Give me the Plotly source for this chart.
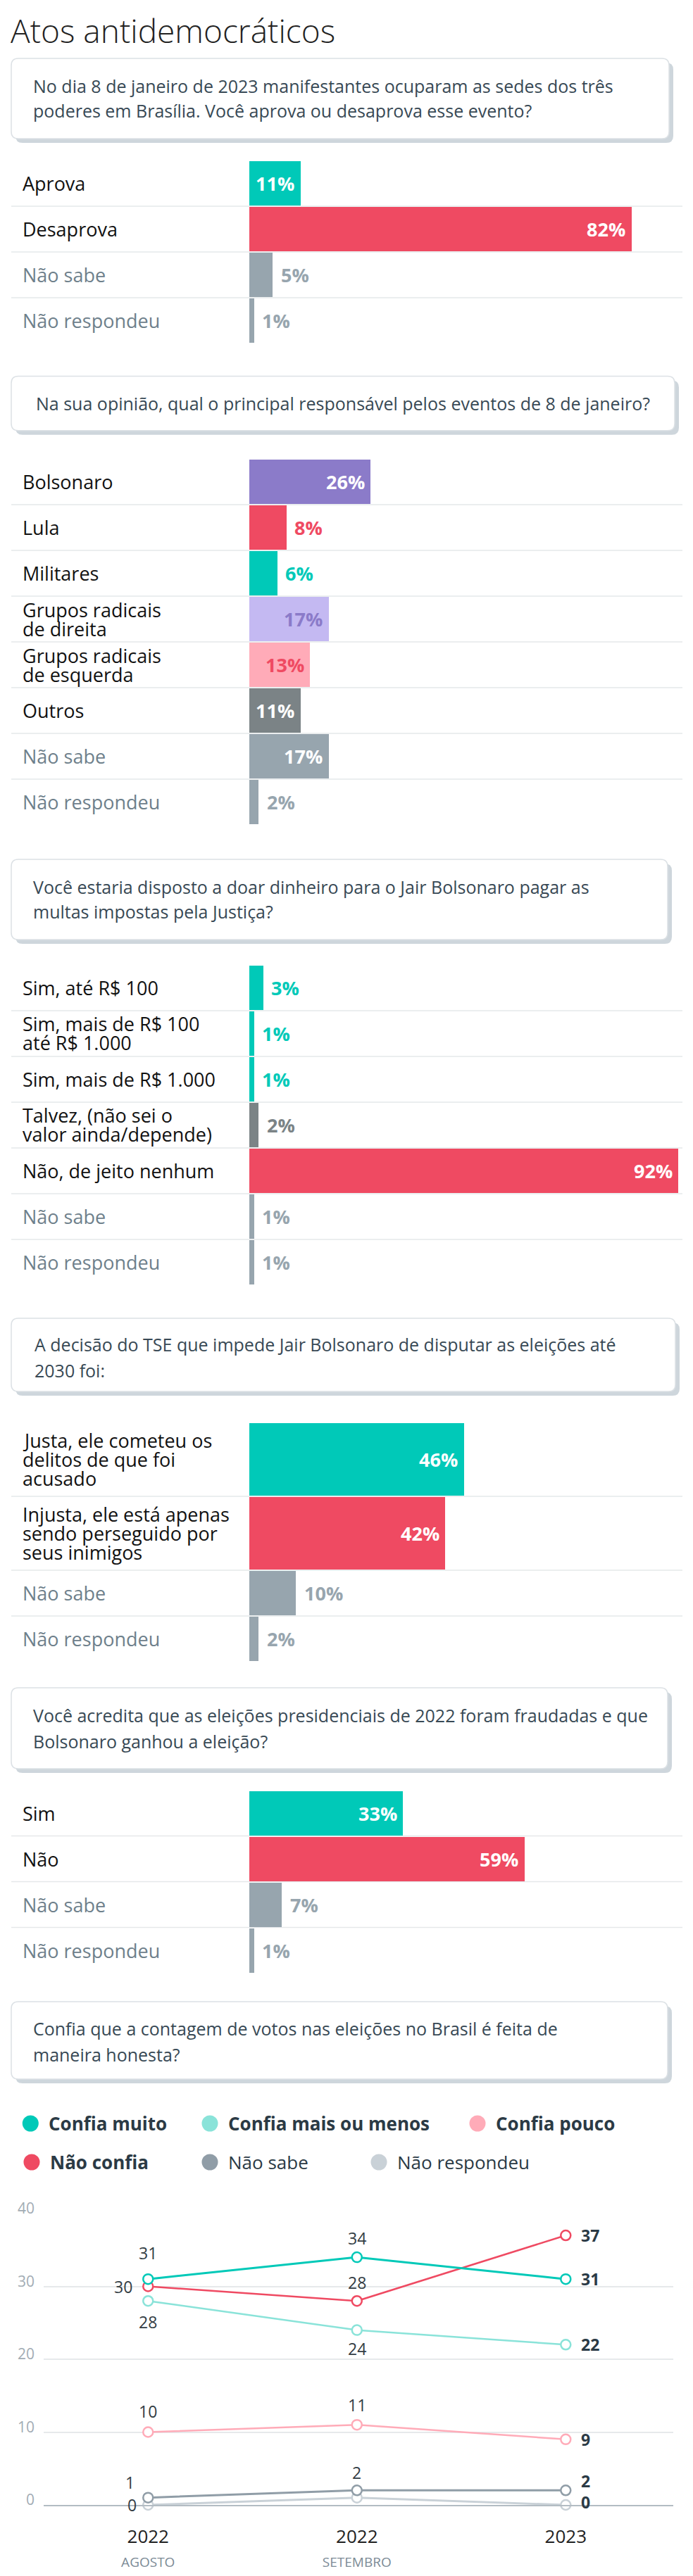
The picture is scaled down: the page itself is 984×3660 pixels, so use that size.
import plotly.graph_objects as go

# ---------------- data ----------------
title_text = "Atos antidemocráticos"

q1 = "No dia 8 de janeiro de 2023 manifestantes ocuparam as sedes dos três\npoderes em Brasília. Você aprova ou desaprova esse evento?"
c1_labels = ["Aprova", "Desaprova", "Não sabe", "Não respondeu"]
c1_values = [11, 82, 5, 1]

q2 = "Na sua opinião, qual o principal responsável pelos eventos de 8 de janeiro?"
c2_labels = ["Bolsonaro", "Lula", "Militares", "Grupos radicais\nde direita",
             "Grupos radicais\nde esquerda", "Outros", "Não sabe", "Não respondeu"]
c2_values = [26, 8, 6, 17, 13, 11, 17, 2]

q3 = "Você estaria disposto a doar dinheiro para o Jair Bolsonaro pagar as\nmultas impostas pela Justiça?"
c3_labels = ["Sim, até R$ 100", "Sim, mais de R$ 100\naté R$ 1.000", "Sim, mais de R$ 1.000",
             "Talvez, (não sei o\nvalor ainda/depende)", "Não, de jeito nenhum", "Não sabe", "Não respondeu"]
c3_values = [3, 1, 1, 2, 92, 1, 1]

q4 = "A decisão do TSE que impede Jair Bolsonaro de disputar as eleições até\n2030 foi:"
c4_labels = ["Justa, ele cometeu os\ndelitos de que foi\nacusado",
             "Injusta, ele está apenas\nsendo perseguido por\nseus inimigos", "Não sabe", "Não respondeu"]
c4_values = [46, 42, 10, 2]

q5 = "Você acredita que as eleições presidenciais de 2022 foram fraudadas e que\nBolsonaro ganhou a eleição?"
c5_labels = ["Sim", "Não", "Não sabe", "Não respondeu"]
c5_values = [33, 59, 7, 1]

q6 = "Confia que a contagem de votos nas eleições no Brasil é feita de\nmaneira honesta?"
periods = ["2022", "2022", "2023"]
period_sub = ["AGOSTO", "SETEMBRO", ""]
s_names = ["Confia muito", "Confia mais ou menos", "Confia pouco", "Não confia", "Não sabe", "Não respondeu"]
s_confia_muito = [31, 34, 31]
s_mais_ou_menos = [28, 24, 22]
s_pouco = [10, 11, 9]
s_nao_confia = [30, 28, 37]
s_nao_sabe = [1, 2, 2]
s_nao_resp = [0, 1, 0]
y_ticks = [0, 10, 20, 30, 40]

# ---------------- style ----------------
W, H = 984, 3660
OFF = 8  # default page margin of the html body
FONT = "Open Sans"
TEAL = "#00c9b8"
RED = "#ef4a62"
PURPLE = "#8b7bc9"
LAVENDER = "#c4b9f2"
PINK = "#ffabb8"
DARKGRAY = "#7b8386"
GRAY = "#97a5ae"
LTEAL = "#8ae3d9"
LGRAY = "#c9d1d7"
LINEGRAY = "#909da7"
QCOLOR = "#384955"
LABGRAY = "#6e808b"

c1_colors = [TEAL, RED, GRAY, GRAY]
c2_colors = [PURPLE, RED, TEAL, LAVENDER, PINK, DARKGRAY, GRAY, GRAY]
c3_colors = [TEAL, TEAL, TEAL, DARKGRAY, RED, GRAY, GRAY]
c4_colors = [TEAL, RED, GRAY, GRAY]
c5_colors = [TEAL, RED, GRAY, GRAY]
inside_text_color = {LAVENDER: PURPLE, PINK: RED}


def px(x):
    return (x - OFF) / W


def py(y):
    return 1 - (y - OFF) / H


def rrect_path(x0, y0, x1, y1, r):
    def P(x, y):
        return f"{px(x):.6f},{py(y):.6f}"
    return (f"M {P(x0 + r, y0)} L {P(x1 - r, y0)} Q {P(x1, y0)} {P(x1, y0 + r)} "
            f"L {P(x1, y1 - r)} Q {P(x1, y1)} {P(x1 - r, y1)} L {P(x0 + r, y1)} "
            f"Q {P(x0, y1)} {P(x0, y1 - r)} L {P(x0, y0 + r)} Q {P(x0, y0)} {P(x0 + r, y0)} Z")


fig = go.Figure()
shapes = []
annotations = []


def add_box(box, qtext, qx, qys):
    x0, y0, x1, y1 = box
    shapes.append(dict(type="path", xref="paper", yref="paper",
                       path=rrect_path(x0 + 6, y0 + 6, x1 + 6, y1 + 6, 10),
                       fillcolor="#ced6dc", line=dict(width=0), layer="below"))
    shapes.append(dict(type="path", xref="paper", yref="paper",
                       path=rrect_path(x0, y0, x1, y1, 10),
                       fillcolor="white", line=dict(color="#dce1e5", width=1.5), layer="below"))
    for line, yy in zip(qtext.split("\n"), qys):
        annotations.append(dict(xref="paper", yref="paper", x=px(qx), y=py(yy),
                                xanchor="left", yanchor="middle", showarrow=False,
                                text=line, font=dict(family=FONT, size=25, color=QCOLOR)))


# title
annotations.append(dict(xref="paper", yref="paper", x=px(13), y=py(43), xanchor="left", yanchor="middle",
                        showarrow=False, text=title_text,
                        font=dict(family=FONT, size=46, color="#222222", weight=300)))

charts = [
    (q1, c1_labels, c1_values, c1_colors),
    (q2, c2_labels, c2_values, c2_colors),
    (q3, c3_labels, c3_values, c3_colors),
    (q4, c4_labels, c4_values, c4_colors),
    (q5, c5_labels, c5_values, c5_colors),
]
positions = [
    dict(box=(16, 83, 950, 197), qx=45, qy=[122, 157.5], top=228),
    dict(box=(16, 534.5, 958, 611.7), qx=49, qy=[573], top=652),
    dict(box=(16, 1221, 948, 1335), qx=45, qy=[1259.6, 1295], top=1371),
    dict(box=(16, 1873, 959, 1977), qx=47, qy=[1910, 1947], top=2021),
    dict(box=(16, 2398, 948, 2513), qx=45, qy=[2437, 2473.6], top=2543.6),
]

BAR_X0, BAR_X1, PX_PER_PCT = 353.5, 969, 6.62
LABEL_LH = 27

for k, ((qtext, labels, values, colors), pos) in enumerate(zip(charts, positions)):
    n = k + 1
    add_box(pos["box"], qtext, pos["qx"], pos["qy"])
    heights = [105 if lab.count("\n") >= 2 else 65 for lab in labels]
    total = sum(heights)
    centers, acc = [], 0
    for h in heights:
        centers.append(acc + h / 2)
        acc += h
    top = pos["top"]
    fig.add_trace(go.Bar(x=values, y=centers, width=[h - 2 for h in heights], orientation="h",
                         marker=dict(color=colors, line=dict(width=0)), base=0,
                         xaxis=f"x{n}", yaxis=f"y{n}", hoverinfo="skip", showlegend=False))
    fig.layout[f"xaxis{n}"] = dict(domain=[px(BAR_X0), px(BAR_X1)],
                                   range=[0, (BAR_X1 - BAR_X0) / PX_PER_PCT],
                                   visible=False, fixedrange=True, anchor=f"y{n}")
    fig.layout[f"yaxis{n}"] = dict(domain=[py(top + total), py(top)], range=[total, 0],
                                   visible=False, fixedrange=True, anchor=f"x{n}")
    # separators
    acc = 0
    for h in heights[:-1]:
        acc += h
        shapes.append(dict(type="line", xref="paper", yref=f"y{n}", x0=px(16), x1=px(969),
                           y0=acc, y1=acc, line=dict(color="#e5e8ea", width=1.5), layer="below"))
    # labels & values
    for lab, v, c, cy in zip(labels, values, colors, centers):
        lines = lab.split("\n")
        lc = LABGRAY if lab in ("Não sabe", "Não respondeu") else "#111111"
        for j, line in enumerate(lines):
            off = (j - (len(lines) - 1) / 2) * LABEL_LH
            annotations.append(dict(xref="paper", yref=f"y{n}", x=px(30), y=cy, yshift=-off,
                                    xanchor="left", yanchor="middle", showarrow=False, text=line,
                                    font=dict(family=FONT, size=27, color=lc)))
        if v >= 11:
            tc = inside_text_color.get(c, "white")
            annotations.append(dict(xref=f"x{n}", yref=f"y{n}", x=v, y=cy, xshift=-6,
                                    xanchor="right", yanchor="middle", showarrow=False, text=f"{v}%",
                                    font=dict(family=FONT, size=27, color=tc, weight=700)))
        else:
            annotations.append(dict(xref=f"x{n}", yref=f"y{n}", x=v, y=cy, xshift=10,
                                    xanchor="left", yanchor="middle", showarrow=False, text=f"{v}%",
                                    font=dict(family=FONT, size=27, color=c, weight=700)))

# ---------------- line chart ----------------
add_box((16, 2844, 948, 2954), q6, 45, [2882, 2919])

series_values = [s_confia_muito, s_mais_ou_menos, s_pouco, s_nao_confia, s_nao_sabe, s_nao_resp]
series_colors = [TEAL, LTEAL, PINK, RED, LINEGRAY, LGRAY]
legend_bold = [True, True, True, True, False, False]
legend_pos = [(43.3, 3017), (298, 3017), (678, 3017), (45, 3072), (298, 3072), (538, 3072)]

for name, col, bold, (cx, cy) in zip(s_names, series_colors, legend_bold, legend_pos):
    r = 11.5
    shapes.append(dict(type="circle", xref="paper", yref="paper", x0=px(cx - r), x1=px(cx + r),
                       y0=py(cy + r), y1=py(cy - r), fillcolor=col, line=dict(width=0)))
    annotations.append(dict(xref="paper", yref="paper", x=px(cx + 24), y=py(cy), xanchor="left",
                            yanchor="middle", showarrow=False, text=name,
                            font=dict(family=FONT, size=26, color="#2b3a45", weight=700 if bold else 400)))

x_idx = list(range(len(periods)))
draw_order = [5, 4, 2, 1, 3, 0]
line_widths = [3, 2.5, 2.5, 2.5, 3, 3]
for i in draw_order:
    fig.add_trace(go.Scatter(x=x_idx, y=series_values[i], mode="lines+markers", name=s_names[i],
                             line=dict(color=series_colors[i], width=line_widths[i]),
                             marker=dict(symbol="circle", size=14, color="white",
                                         line=dict(color=series_colors[i], width=2.5)),
                             cliponaxis=False, xaxis="x6", yaxis="y6", hoverinfo="skip",
                             showlegend=False))

label_pos = [
    [("c", 0, 37), ("c", 0, 27), ("r", 20, 0)],
    [("c", 0, -30), ("c", 0, -26), ("r", 20, 0)],
    [("c", 0, 30), ("c", 0, 28), ("r", 20, 0)],
    [("l", -20, 0), ("c", 0, 26), ("r", 20, 0)],
    [("l", -17, 22), ("c", 0, 25), ("r", 20, 13)],
    [("l", -14, 0), None, ("r", 20, 4)],
]
for vals, lp in zip(series_values, label_pos):
    for xi, (v, p) in enumerate(zip(vals, lp)):
        if p is None:
            continue
        side, dx, dy = p
        last = xi == len(vals) - 1
        anchor = {"c": "center", "l": "right", "r": "left"}[side]
        annotations.append(dict(xref="x6", yref="y6", x=xi, y=v, xshift=dx, yshift=dy,
                                xanchor=anchor, yanchor="middle", showarrow=False, text=str(v),
                                font=dict(family=FONT, size=23, color="#2b3a45" if last else "#333d44",
                                          weight=700 if last else 400)))

ticktext = []
for p, s in zip(periods, period_sub):
    if s:
        ticktext.append(f"{p}<br><span style='font-size:19px;color:#7c8b96'>{s}</span>")
    else:
        ticktext.append(p)

fig.layout["xaxis6"] = dict(domain=[px(62), px(956)], range=[-0.5, 2.515], anchor="y6",
                            tickmode="array", tickvals=x_idx, ticktext=ticktext,
                            tickfont=dict(family=FONT, size=26, color="#222222"),
                            showgrid=False, zeroline=False, showline=True, linecolor="#b3bcc3",
                            linewidth=2, ticks="", ticklabelstandoff=21, fixedrange=True)
fig.layout["yaxis6"] = dict(domain=[py(3559), py(3145)], range=[0, 40], anchor="x6",
                            tickmode="array", tickvals=y_ticks,
                            tickfont=dict(family=FONT, size=21, color="#a2acb4"),
                            showgrid=True, gridcolor="#e6e9eb", gridwidth=1.5, zeroline=False,
                            showline=False, ticks="", ticklabelstandoff=12, ticklabelshift=-7,
                            fixedrange=True)

fig.update_layout(width=W, height=H, margin=dict(l=0, r=0, t=0, b=0, pad=0, autoexpand=False),
                  paper_bgcolor="white", plot_bgcolor="rgba(0,0,0,0)",
                  shapes=shapes, annotations=annotations, showlegend=False,
                  font=dict(family=FONT), bargap=0)

fig.write_html("out.html", config={"displayModeBar": False})
